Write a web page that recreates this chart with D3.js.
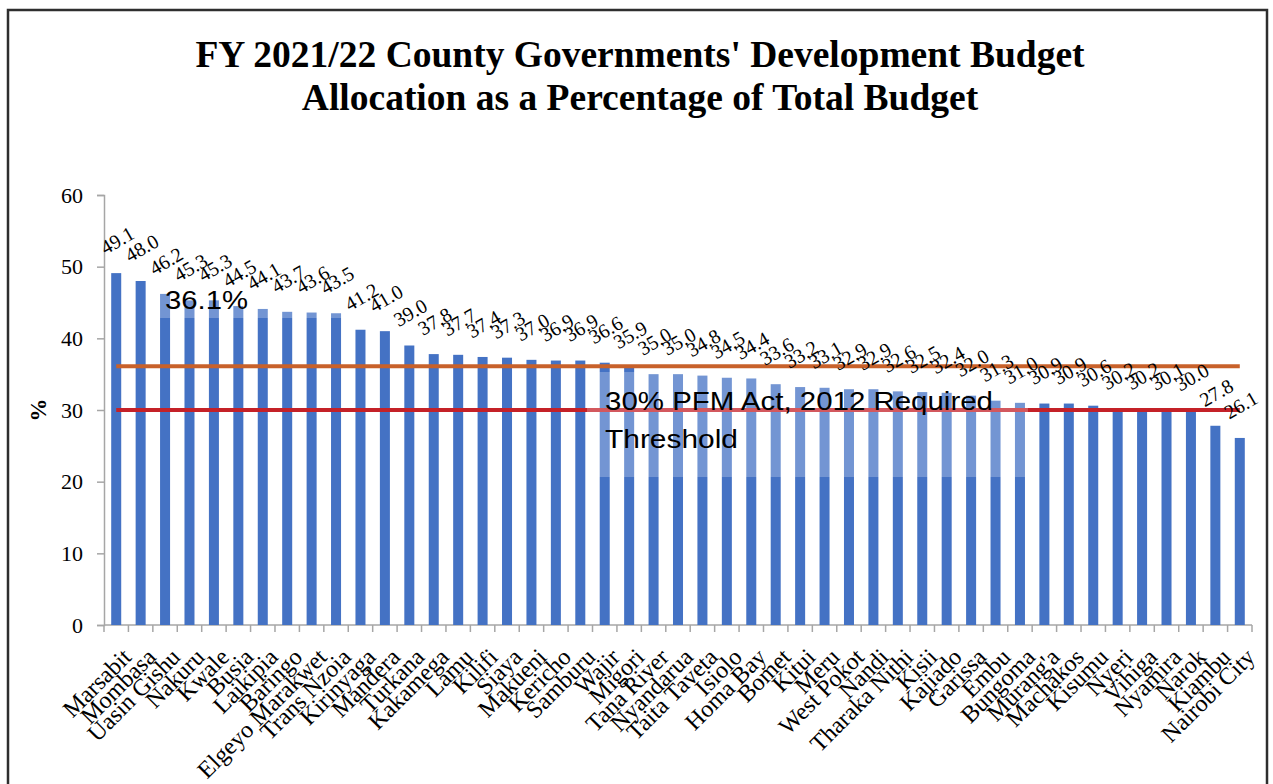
<!DOCTYPE html>
<html>
<head>
<meta charset="utf-8">
<script src="https://cdn.jsdelivr.net/npm/d3@7"></script>
<style>
  html, body { margin: 0; padding: 0; background: #fff; }
  svg { display: block; }
  .serif { font-family: 'Liberation Serif', 'Times New Roman', serif; }
  .sans { font-family: 'Liberation Sans', Arial, sans-serif; }
</style>
</head>
<body>
<svg id="chart" width="1273" height="784"></svg>
<script>
// County development budget shares, FY 2021/22 (% of total budget)
const counties = [
  "Marsabit", "Mombasa", "Uasin Gishu", "Nakuru", "Kwale", "Busia", "Laikipia",
  "Baringo", "Elgeyo Marakwet", "Trans Nzoia", "Kirinyaga", "Mandera", "Turkana",
  "Kakamega", "Lamu", "Kilifi", "Siaya", "Makueni", "Kericho", "Samburu", "Wajir",
  "Migori", "Tana River", "Nyandarua", "Taita Taveta", "Isiolo", "Homa Bay", "Bomet",
  "Kitui", "Meru", "West Pokot", "Nandi", "Tharaka Nithi", "Kisii", "Kajiado",
  "Garissa", "Embu", "Bungoma", "Murang'a", "Machakos", "Kisumu", "Nyeri", "Vihiga",
  "Nyamira", "Narok", "Kiambu", "Nairobi City"
];
const devShare = [
  49.1, 48.0, 46.2, 45.3, 45.3, 44.5, 44.1,
  43.7, 43.6, 43.5, 41.2, 41.0, 39.0,
  37.8, 37.7, 37.4, 37.3, 37.0, 36.9, 36.9, 36.6,
  35.9, 35.0, 35.0, 34.8, 34.5, 34.4, 33.6,
  33.2, 33.1, 32.9, 32.9, 32.6, 32.5, 32.4,
  32.0, 31.3, 31.0, 30.9, 30.9, 30.6, 30.2, 30.2,
  30.1, 30.0, 27.8, 26.1
];
const yTicks = [0, 10, 20, 30, 40, 50, 60];
const averageShare = 36.1;   // average across counties
const requiredShare = 30;    // PFM Act, 2012 minimum
const titleLines = [
  "FY 2021/22 County Governments' Development Budget",
  "Allocation as a Percentage of Total Budget"
];

const svg = d3.select("#chart");

// outer frame
svg.append("rect")
  .attr("x", 8).attr("y", 10).attr("width", 1259).attr("height", 790)
  .attr("fill", "none").attr("stroke", "#2e2e2e").attr("stroke-width", 2.5);

// title
svg.append("g").selectAll("text").data(titleLines).join("text")
  .attr("class", "serif")
  .attr("x", 640).attr("y", (d, i) => 67 + i * 43)
  .attr("text-anchor", "middle")
  .style("font-weight", "bold").style("font-size", "37.5px")
  .attr("fill", "#000")
  .text(d => d);

const x = d3.scaleBand().domain(counties).range([104, 1252]).padding(0);
const y = d3.scaleLinear().domain([0, 60]).range([625, 195]);
const barW = x.bandwidth() * 0.41;
const cx = d => x(d) + x.bandwidth() / 2;

// y axis
const yAxis = svg.append("g").attr("transform", "translate(104,0)")
  .call(d3.axisLeft(y).tickValues(yTicks).tickSize(7).tickPadding(14).tickFormat(d3.format("d")));
yAxis.attr("font-family", "'Liberation Serif', 'Times New Roman', serif").attr("font-size", 22);
yAxis.select(".domain").attr("stroke", "#a6a6a6").attr("stroke-width", 1.5);
yAxis.selectAll(".tick line").attr("stroke", "#a6a6a6").attr("stroke-width", 1.5);
yAxis.selectAll(".tick text")
  .attr("class", "serif")
  .style("font-size", "22px").attr("fill", "#000");

// y axis title
svg.append("text")
  .attr("class", "serif")
  .attr("transform", "translate(46,410) rotate(-90)")
  .attr("text-anchor", "middle")
  .style("font-weight", "bold").style("font-size", "23px")
  .text("%");

// x axis line and category tick marks at band edges
const xAxisG = svg.append("g");
xAxisG.append("line")
  .attr("x1", 104).attr("x2", 1252).attr("y1", y(0)).attr("y2", y(0))
  .attr("stroke", "#a6a6a6").attr("stroke-width", 1.5);
const edges = counties.map(c => x(c)).concat([x.range()[1]]);
xAxisG.selectAll(".edge").data(edges).join("line")
  .attr("x1", d => d).attr("x2", d => d)
  .attr("y1", y(0)).attr("y2", y(0) + 7)
  .attr("stroke", "#a6a6a6").attr("stroke-width", 1.5);

// category labels
xAxisG.selectAll(".cat").data(counties).join("text")
  .attr("class", "serif")
  .attr("transform", d => `translate(${cx(d) + 5},647) rotate(-45)`)
  .attr("text-anchor", "end")
  .attr("dy", "0.68em")
  .style("font-size", "24px").attr("fill", "#000")
  .text(d => d);

// bars
svg.append("g").selectAll("rect").data(counties).join("rect")
  .attr("x", d => cx(d) - barW / 2)
  .attr("width", barW)
  .attr("y", (d, i) => y(devShare[i]))
  .attr("height", (d, i) => y(0) - y(devShare[i]))
  .attr("fill", "#4472c4");

// reference lines
const first = cx(counties[0]), last = cx(counties[counties.length - 1]);
svg.append("line")
  .attr("x1", first).attr("x2", last)
  .attr("y1", y(averageShare)).attr("y2", y(averageShare))
  .attr("stroke", "#c8612a").attr("stroke-width", 4);
svg.append("line")
  .attr("x1", first).attr("x2", last)
  .attr("y1", y(requiredShare)).attr("y2", y(requiredShare))
  .attr("stroke", "#c42128").attr("stroke-width", 4);

// annotation boxes (semi-transparent white)
const avgBox = { x0: 147, x1: 350, y0: 271, y1: 318 };
const reqBox = { x0: 587, x1: 1028, y0: 372, y1: 477 };
[avgBox, reqBox].forEach(b => {
  svg.append("rect")
    .attr("x", b.x0).attr("y", b.y0)
    .attr("width", b.x1 - b.x0).attr("height", b.y1 - b.y0)
    .attr("fill", "#fff").attr("fill-opacity", 0.25);
});

svg.append("text")
  .attr("class", "sans")
  .attr("x", 165).attr("y", 309)
  .style("font-size", "25px")
  .attr("textLength", 83).attr("lengthAdjust", "spacingAndGlyphs")
  .text(averageShare.toFixed(1) + "%");
svg.append("text")
  .attr("class", "sans")
  .attr("x", 605).attr("y", 410)
  .style("font-size", "25px")
  .attr("textLength", 388).attr("lengthAdjust", "spacingAndGlyphs")
  .text(requiredShare + "% PFM Act, 2012 Required");
svg.append("text")
  .attr("class", "sans")
  .attr("x", 605).attr("y", 448)
  .style("font-size", "25px")
  .attr("textLength", 133).attr("lengthAdjust", "spacingAndGlyphs")
  .text("Threshold");

// value labels
svg.append("g").selectAll("text").data(counties).join("text")
  .attr("class", "serif")
  .attr("transform", (d, i) => `translate(${cx(d) + 1},${y(devShare[i]) - 33}) rotate(-30)`)
  .attr("text-anchor", "middle")
  .attr("dominant-baseline", "central")
  .style("font-size", "20px").attr("fill", "#000")
  .text((d, i) => devShare[i].toFixed(1));
</script>
</body>
</html>
